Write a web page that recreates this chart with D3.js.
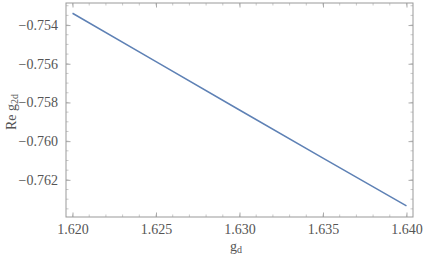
<!DOCTYPE html>
<html>
<head>
<meta charset="utf-8">
<script src="https://cdn.jsdelivr.net/npm/d3@7"></script>
<style>
body { margin: 0; background: #fff; }
.lab { font-family: "Liberation Serif", "DejaVu Serif", serif; font-size: 14px; fill: #555; }
</style>
</head>
<body>
<div id="chart"></div>
<script>
var gd = [1.620, 1.625, 1.630, 1.635, 1.640];
var reG2d = [-0.75339, -0.75589, -0.75839, -0.76088, -0.76335];
var xTicks = [1.620, 1.625, 1.630, 1.635, 1.640];
var yTicks = [-0.754, -0.756, -0.758, -0.760, -0.762];

var width = 424, height = 257;
var frame = {left: 66, right: 413, top: 3, bottom: 217};

var svg = d3.select("#chart").append("svg")
  .attr("width", width)
  .attr("height", height);

var xScale = d3.scaleLinear()
  .domain([1.61961, 1.64039])
  .range([frame.left, frame.right]);

var yScale = d3.scaleLinear()
  .domain([-0.76392, -0.75286])
  .range([frame.bottom, frame.top]);

var minorX = d3.range(1.620, 1.6405, 0.001);
var minorY = d3.range(-0.7635, -0.7525, 0.0005);
var gray = "#999";

// minor ticks on all sides
var ticks = svg.append("g").attr("stroke", "#bbb").attr("stroke-width", 0.8);
minorX.forEach(function(v) {
  var x = xScale(v);
  ticks.append("line").attr("x1", x).attr("x2", x).attr("y1", frame.bottom).attr("y2", frame.bottom - 2.5);
  ticks.append("line").attr("x1", x).attr("x2", x).attr("y1", frame.top).attr("y2", frame.top + 2.5);
});
minorY.forEach(function(v) {
  var y = yScale(v);
  ticks.append("line").attr("x1", frame.left).attr("x2", frame.left + 2.5).attr("y1", y).attr("y2", y);
  ticks.append("line").attr("x1", frame.right).attr("x2", frame.right - 2.5).attr("y1", y).attr("y2", y);
});

// major ticks, inward
var fmt = function(d) { return d3.format(".3f")(d).replace("-", "\u2212"); };

var xAxis = svg.append("g")
  .attr("transform", "translate(0," + frame.bottom + ")")
  .call(d3.axisBottom(xScale).tickValues(xTicks).tickFormat(fmt).tickSizeInner(-4.5).tickSizeOuter(0).tickPadding(7));
var yAxis = svg.append("g")
  .attr("transform", "translate(" + frame.left + ",0)")
  .call(d3.axisLeft(yScale).tickValues(yTicks).tickFormat(fmt).tickSizeInner(-4.5).tickSizeOuter(0).tickPadding(8));
svg.append("g")
  .attr("transform", "translate(0," + frame.top + ")")
  .call(d3.axisTop(xScale).tickValues(xTicks).tickFormat("").tickSizeInner(-4.5).tickSizeOuter(0));
svg.append("g")
  .attr("transform", "translate(" + frame.right + ",0)")
  .call(d3.axisRight(yScale).tickValues(yTicks).tickFormat("").tickSizeInner(-4.5).tickSizeOuter(0));

[xAxis, yAxis].forEach(function(a) {
  a.attr("font-family", "Liberation Serif, DejaVu Serif, serif").attr("font-size", 14);
  a.selectAll(".tick text").attr("fill", "#555");
});

svg.selectAll(".domain").remove();
svg.selectAll(".tick line").attr("stroke", "#aaa");

// frame
svg.append("rect")
  .attr("x", frame.left).attr("y", frame.top)
  .attr("width", frame.right - frame.left).attr("height", frame.bottom - frame.top)
  .attr("fill", "none").attr("stroke", gray).attr("stroke-width", 1);

// line
var pts = gd.map(function(d, i) { return [d, reG2d[i]]; });
svg.append("path")
  .datum(pts)
  .attr("fill", "none")
  .attr("stroke", "#5E81B5")
  .attr("stroke-width", 1.5)
  .attr("d", d3.line().x(function(d) { return xScale(d[0]); }).y(function(d) { return yScale(d[1]); }));

// axis labels
var xl = svg.append("text").attr("class", "lab")
  .attr("x", 236).attr("y", 251).style("text-anchor", "middle");
xl.append("tspan").text("g");
xl.append("tspan").attr("font-size", "10px").attr("dy", 2).text("d");

var yl = svg.append("text").attr("class", "lab")
  .attr("transform", "translate(16,112) rotate(-90)").style("text-anchor", "middle");
yl.append("tspan").text("Re g");
yl.append("tspan").attr("font-size", "10px").attr("dy", 2).text("2d");
</script>
</body>
</html>
